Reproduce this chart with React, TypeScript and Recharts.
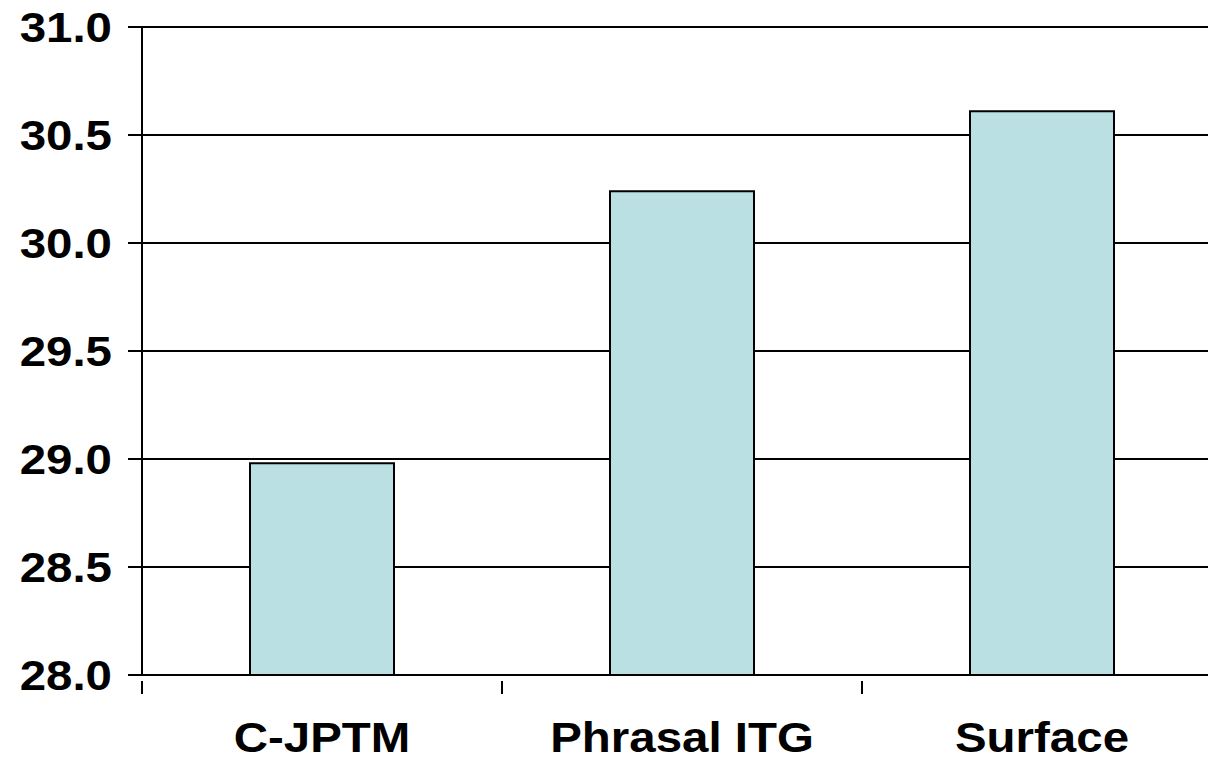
import React from "react";
import { BarChart, Bar, XAxis, YAxis, CartesianGrid } from "recharts";

const systems = ["C-JPTM", "Phrasal ITG", "Surface"];
const scores = [28.98, 30.24, 30.61];
const yTicks = [28.0, 28.5, 29.0, 29.5, 30.0, 30.5, 31.0];

const chartData = systems.map((name, i) => ({ name, score: scores[i] }));

const FONT = "'Liberation Sans', Arial, sans-serif";
const HALF_BAND = 180;
// the original image is stretched horizontally a bit
const STRETCH = 1.13;

// x ticks sit on the category boundaries, not the centres
const CategoryTick = (props: any) => {
  const { x, y, payload, index } = props;
  const last = index === systems.length - 1;
  return (
    <g>
      <line x1={x - HALF_BAND} y1={y - 41} x2={x - HALF_BAND} y2={y - 28} stroke="#000" strokeWidth={2} />
      {last && (
        <line x1={x + HALF_BAND} y1={y - 41} x2={x + HALF_BAND} y2={y - 28} stroke="#000" strokeWidth={2} />
      )}
      <text
        transform={`translate(${x},${y}) scale(${STRETCH},1)`}
        dy="0.71em"
        textAnchor="middle"
        fontFamily={FONT}
        fontWeight="bold"
        fontSize={42}
        fill="#000"
      >
        {payload.value}
      </text>
    </g>
  );
};

const ValueTick = (props: any) => {
  const { x, y, payload } = props;
  return (
    <text
      transform={`translate(${x},${y}) scale(${STRETCH},1)`}
      dy="0.355em"
      textAnchor="end"
      fontFamily={FONT}
      fontWeight="bold"
      fontSize={42}
      fill="#000"
    >
      {Number(payload.value).toFixed(1)}
    </text>
  );
};

const App: React.FC = () => {
  return (
    <div style={{ position: "fixed", left: 0, top: 0, width: 1208, height: 759, overflow: "hidden", background: "#fff" }}>
      <BarChart
        width={1230}
        height={759}
        data={chartData}
        margin={{ top: 27, right: 8, left: 0, bottom: 0 }}
        barCategoryGap="30%"
      >
        <CartesianGrid vertical={false} stroke="#000" strokeWidth={2} />
        <XAxis
          dataKey="name"
          height={84}
          axisLine={{ stroke: "#000", strokeWidth: 2 }}
          tickLine={false}
          tickMargin={41}
          tick={<CategoryTick />}
          interval={0}
        />
        <YAxis
          width={142}
          domain={[28, 31]}
          ticks={yTicks}
          axisLine={{ stroke: "#000", strokeWidth: 2 }}
          tickLine={{ stroke: "#000", strokeWidth: 2 }}
          tickSize={14}
          tickMargin={16}
          tick={<ValueTick />}
          allowDataOverflow
        />
        <Bar dataKey="score" fill="#BBE0E3" stroke="#000" strokeWidth={2} isAnimationActive={false} />
      </BarChart>
    </div>
  );
};

export default App;
